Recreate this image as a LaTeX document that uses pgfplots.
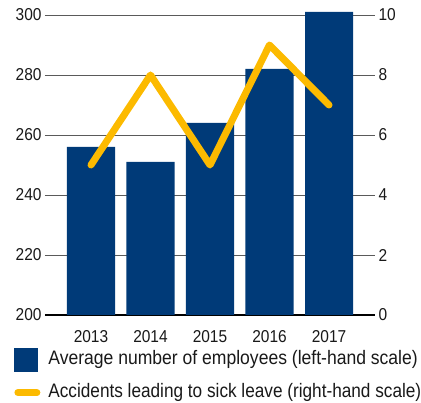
\documentclass[border=0pt]{standalone}
\usepackage{fontspec}
\setmainfont{Liberation Sans}[FakeStretch=0.9]
\usepackage{graphicx}
\usepackage{pgfplots}
\pgfplotsset{compat=1.18}
\definecolor{barblue}{RGB}{0,58,120}
\definecolor{lineyellow}{RGB}{252,186,0}
\definecolor{gridgray}{RGB}{90,90,90}
\definecolor{txt}{RGB}{25,25,25}
\begin{document}
\begin{tikzpicture}
\path[use as bounding box] (-45bp,-88bp) rectangle (376bp,315bp);
\begin{axis}[
  scale only axis, width=330bp, height=306bp,
  at={(0,0)}, anchor=south west,
  xmin=-0.773, xmax=4.773, ymin=200, ymax=302,
  axis x line*=bottom, axis y line*=left,
  x axis line style={black, line width=1.6bp, -},
  y axis line style={draw=none},
  major tick length=0pt,
  xtick={0,1,2,3,4},
  xticklabels={2013,2014,2015,2016,2017},
  ytick={200,220,240,260,280,300},
  ymajorgrids, grid style={gridgray, line width=0.8bp},
  tick label style={font=\fontsize{17.2bp}{20bp}\selectfont, text=txt},
  xticklabel style={yshift=-11.5bp},
  /pgf/number format/assume math mode=true,
]
\addplot[ybar, bar width=0.807, bar shift=0pt, fill=barblue, draw=none]
  coordinates {(0,256) (1,251) (2,264) (3,282) (4,301)};
\end{axis}
\begin{axis}[
  scale only axis, width=330bp, height=306bp,
  at={(0,0)}, anchor=south west,
  xmin=-0.773, xmax=4.773, ymin=0, ymax=10.2,
  axis x line=none, axis y line*=right,
  y axis line style={draw=none},
  major tick length=0pt,
  ytick={0,2,4,6,8,10},
  tick label style={font=\fontsize{17.2bp}{20bp}\selectfont, text=txt},
  /pgf/number format/assume math mode=true,
  legend style={at={(axis description cs:-0.0939,-0.1078)}, anchor=north west,
    draw=none, fill=none, inner sep=0pt, row sep=12bp, column sep=8bp,
    font=\fontsize{19.5bp}{22bp}\selectfont, text=txt,
    nodes={inner sep=0pt, text height=14bp, text depth=4bp}},
  legend cell align=left,
]
\addlegendimage{legend image code/.code={\fill[barblue] (0bp,-11.5bp) rectangle (23bp,11.5bp);}}
\addlegendentry{Average number of employees (left-hand scale)}
\addplot[lineyellow, line width=7bp, line cap=round, line join=round,
  legend image code/.code={\draw[lineyellow, line width=7bp, line cap=round] (3.5bp,0bp) -- (22.5bp,0bp);}]
  coordinates {(0,5) (1,8) (2,5) (3,9) (4,7)};
\addlegendentry{\scalebox{0.98}[1]{Accidents leading to sick leave (right-hand scale)}}
\end{axis}
\end{tikzpicture}
\end{document}
